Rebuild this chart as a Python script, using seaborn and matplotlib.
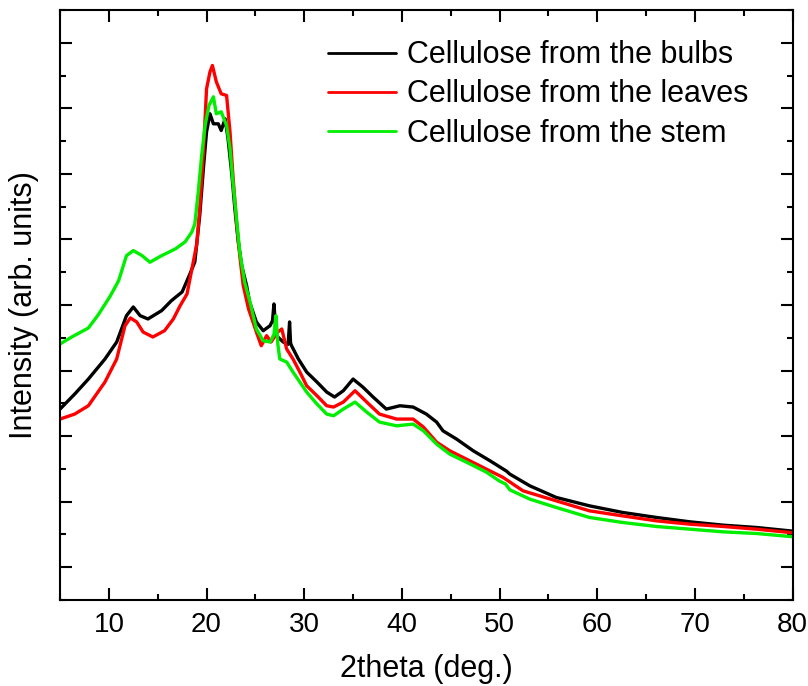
#xrd patterns of cellulose extracted from three parts of the plant
#values are read off the original figure, intensity is arbitrary (major tick = 1000)
import numpy as np
import pandas as pd
import matplotlib
matplotlib.use('Agg')
import matplotlib.pyplot as plt
import seaborn as sns
from matplotlib.ticker import MultipleLocator, NullFormatter

#series names
names = ['Cellulose from the bulbs', 'Cellulose from the leaves', 'Cellulose from the stem']

#bulbs
bulbs_x = [5, 6.5, 7.9, 9.6, 10.8, 11.8, 12.5, 13.2, 14.0, 15.4, 16.4, 17.5, 18.3, 18.8, 19.3, 19.7,
           20.0, 20.35, 20.7, 21.2, 21.5, 21.9, 22.2, 22.6, 22.9, 23.25, 23.6, 24.1, 24.4, 25.1, 25.8,
           26.5, 26.75, 26.9, 27.05, 27.15, 27.85, 28.35, 28.5, 28.6, 28.7, 29.4, 30.25, 31.3, 32.3,
           33.1, 34.0, 35.0, 36.0, 37.05, 38.4, 39.8, 41.15, 42.5, 43.55, 44.2, 45.6, 47.3, 49.0,
           50.7, 51.05, 53.1, 55.8, 59.2, 62.6, 66.05, 69.5, 72.9, 76.3, 80]
bulbs_y = [2412, 2641, 2870, 3176, 3435, 3837, 3970, 3837, 3787, 3914, 4066, 4199, 4474, 4657, 5364, 6127,
           6642, 6917, 6764, 6764, 6662, 6841, 6535, 5975, 5466, 4962, 4600, 4295, 4046, 3741, 3608,
           3684, 3760, 4016, 3700, 3532, 3435, 3400, 3741, 3420, 3379, 3176, 2977, 2825, 2672,
           2596, 2692, 2870, 2748, 2596, 2412, 2463, 2443, 2336, 2214, 2081, 1954, 1776, 1625,
           1466, 1420, 1241, 1064, 936, 835, 759, 692, 641, 606, 550]

#leaves
leaves_x = [5, 6.5, 7.9, 9.6, 10.8, 11.65, 12.2, 12.85, 13.5, 14.5, 15.7, 16.6, 17.3, 18.0, 18.6, 19.0,
            19.3, 19.7, 20.0, 20.35, 20.6, 21.0, 21.5, 22.05, 22.4, 22.7, 23.1, 23.4, 23.75, 24.3, 25.1,
            25.6, 26.15, 26.6, 27.3, 27.7, 28.2, 28.85, 29.55, 30.25, 31.3, 32.3, 33.0, 34.0, 35.2,
            36.4, 37.7, 39.45, 41.15, 42.2, 43.55, 44.9, 46.6, 48.65, 50.35, 52.4, 55.8, 59.2, 62.6,
            66.05, 69.5, 72.9, 76.3, 80]
leaves_y = [2260, 2336, 2463, 2825, 3176, 3684, 3802, 3741, 3588, 3512, 3608, 3787, 3990, 4168, 4626, 4931,
            5466, 6382, 7298, 7557, 7654, 7405, 7222, 7196, 6642, 5975, 5211, 4753, 4300, 3940, 3588,
            3379, 3532, 3435, 3588, 3634, 3329, 3176, 2977, 2768, 2616, 2463, 2443, 2519, 2692,
            2519, 2336, 2260, 2260, 2138, 1908, 1776, 1649, 1496, 1370, 1165, 1012, 860, 783,
            707, 656, 621, 580, 525]

#stem
stem_x = [5, 6.2, 7.9, 8.9, 10.1, 11.0, 11.8, 12.5, 13.4, 14.2, 15.4, 16.8, 17.8, 18.5, 18.8, 19.15, 19.5,
          19.85, 20.25, 20.7, 21.0, 21.5, 22.05, 22.4, 22.7, 23.1, 23.4, 23.9, 24.5, 25.1, 25.8, 26.5,
          26.9, 27.1, 27.3, 27.5, 28.2, 28.85, 29.55, 30.25, 31.3, 32.3, 33.0, 34.0, 35.2, 36.4, 37.7,
          39.45, 41.15, 42.2, 43.55, 44.9, 46.6, 48.65, 50.0, 50.6, 51.05, 53.1, 55.8, 59.2, 62.6,
          66.05, 69.5, 72.9, 76.3, 80]
stem_y = [3405, 3512, 3649, 3848, 4126, 4371, 4753, 4830, 4753, 4652, 4753, 4855, 4962, 5115, 5237, 5725,
          6280, 6738, 7044, 7176, 6917, 6947, 6738, 6382, 5878, 5268, 4809, 4351, 4016, 3634, 3455,
          3435, 3550, 3837, 3400, 3176, 3130, 2977, 2825, 2672, 2489, 2336, 2310, 2412, 2519, 2366,
          2214, 2157, 2183, 2081, 1878, 1725, 1603, 1450, 1313, 1270, 1180, 1038, 911, 759, 682,
          621, 580, 539, 514, 465]

colors = {names[0]: '#000000', names[1]: '#ff0000', names[2]: '#00ee00'}

#long table for seaborn
df = pd.concat([
    pd.DataFrame({'theta': bulbs_x, 'intensity': bulbs_y, 'sample': names[0]}),
    pd.DataFrame({'theta': leaves_x, 'intensity': leaves_y, 'sample': names[1]}),
    pd.DataFrame({'theta': stem_x, 'intensity': stem_y, 'sample': names[2]}),
], ignore_index=True)

#chart settings
sns.set_theme(style='ticks', rc={
    'axes.linewidth': 1.5,
    'xtick.direction': 'in',
    'ytick.direction': 'in',
    'xtick.top': True,
    'ytick.right': True,
    'xtick.major.size': 8.5,
    'ytick.major.size': 8.5,
    'xtick.minor.size': 4.5,
    'ytick.minor.size': 4.5,
    'xtick.major.width': 1.5,
    'ytick.major.width': 1.5,
    'xtick.minor.width': 1.5,
    'ytick.minor.width': 1.5,
    'xtick.color': 'black',
    'ytick.color': 'black',
    'axes.edgecolor': 'black',
    'text.color': 'black',
    'axes.labelcolor': 'black',
})
plt.rcParams['font.family'] = ['Liberation Sans', 'DejaVu Sans']

fig = plt.figure(figsize=(8.08, 6.86), dpi=100)
ax = fig.add_axes([0.0743, 0.1254, 0.9067, 0.86])

sns.lineplot(
    data=df, x='theta', y='intensity', hue='sample', hue_order=names,
    palette=colors, estimator=None, sort=False,
    linewidth=2.4, ax=ax)

#axis limits and ticks
ax.set_xlim(5, 80)
ax.set_ylim(-500, 8500)
ax.xaxis.set_major_locator(MultipleLocator(10))
ax.xaxis.set_minor_locator(MultipleLocator(5))
ax.yaxis.set_major_locator(MultipleLocator(1000))
ax.yaxis.set_minor_locator(MultipleLocator(500))
ax.yaxis.set_major_formatter(NullFormatter())
ax.tick_params(axis='x', which='both', top=True, labelsize=20, pad=9)
ax.tick_params(axis='y', which='both', right=True)

#axis titles
ax.set_xlabel('2theta (deg.)', fontsize=22, labelpad=11)
ax.set_ylabel('Intensity (arb. units)', fontsize=22, labelpad=12)

#legend, handles a bit thinner than the scans
leg = ax.legend(loc='upper left', bbox_to_anchor=(0.337, 0.985), frameon=False, fontsize=22,
                handlelength=2.2, handletextpad=0.38, labelspacing=0.3, borderpad=0.2)
for line in leg.get_lines():
    line.set_linewidth(2.0)

fig.savefig('out.png', dpi=100)
